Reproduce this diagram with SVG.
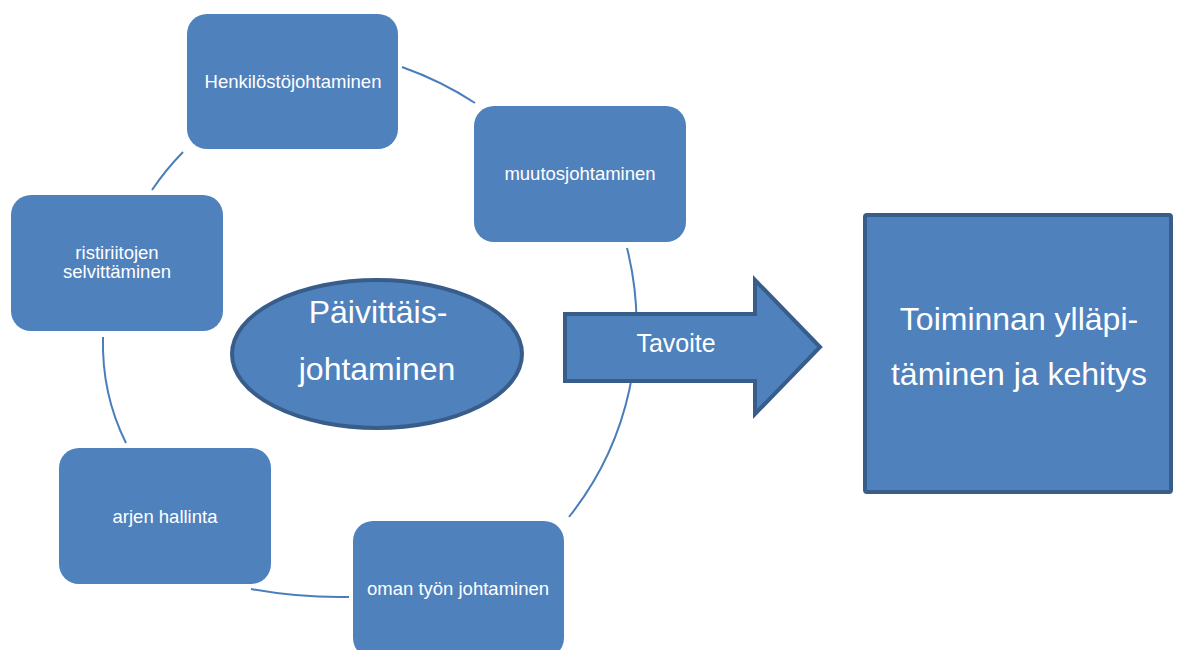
<svg xmlns="http://www.w3.org/2000/svg" width="1178" height="650" viewBox="0 0 1178 650">
  <style>
    .node { fill: #4F81BD; }
    .box-label { font-family: "Liberation Sans", Arial, sans-serif; font-size: 18.5px; fill: #FFFFFF; text-anchor: middle; }
    .big-label { font-family: "Liberation Sans", Arial, sans-serif; font-size: 32px; fill: #FFFFFF; text-anchor: middle; }
    .outlined { fill: #4F81BD; stroke: #385D8A; stroke-width: 4; }
    .link { fill: none; stroke: #4A7EBB; stroke-width: 2; }
  </style>
  <rect width="1178" height="650" fill="#FFFFFF"/>

  <!-- cycle connectors -->
  <g id="connectors">
    <path class="link" d="M402,67 Q441.5,81 475,103"/>
    <path class="link" d="M627,248 A310,310 0 0 1 569,517"/>
    <path class="link" d="M349,597 Q300.5,598 251,589"/>
    <path class="link" d="M126,443 Q101.5,394 103,337"/>
    <path class="link" d="M152,190 Q165.8,169.6 183,152"/>
  </g>

  <g id="node-henkilosto">
    <rect class="node" x="187" y="14" width="211" height="135" rx="20"/>
    <text class="box-label" x="293" y="88">Henkilöstöjohtaminen</text>
  </g>

  <g id="node-muutos">
    <rect class="node" x="474" y="106" width="212" height="136" rx="20"/>
    <text class="box-label" x="580" y="180">muutosjohtaminen</text>
  </g>

  <g id="node-ristiriidat">
    <rect class="node" x="11" y="195" width="212" height="136" rx="20"/>
    <text class="box-label" x="117" y="259">ristiriitojen</text>
    <text class="box-label" x="117" y="278">selvittäminen</text>
  </g>

  <g id="node-arki">
    <rect class="node" x="59" y="448" width="212" height="136" rx="20"/>
    <text class="box-label" x="165" y="523">arjen hallinta</text>
  </g>

  <g id="node-oma-tyo">
    <rect class="node" x="353" y="521" width="211" height="137" rx="20"/>
    <text class="box-label" x="458" y="595">oman työn johtaminen</text>
  </g>

  <g id="node-paivittais">
    <ellipse class="outlined" cx="377" cy="354" rx="145" ry="74"/>
    <text class="big-label" x="378" y="323">Päivittäis-</text>
    <text class="big-label" x="377" y="380">johtaminen</text>
  </g>

  <g id="node-tavoite">
    <path class="outlined" d="M565,314 H755 V280 L820,347 L755,414 V381 H565 Z"/>
    <text class="big-label" x="676" y="352" style="font-size:25px">Tavoite</text>
  </g>

  <g id="node-toiminta">
    <rect class="outlined" x="865" y="215" width="306" height="277" rx="2"/>
    <text class="big-label" x="1019" y="330">Toiminnan ylläpi-</text>
    <text class="big-label" x="1019" y="385">täminen ja kehitys</text>
  </g>
</svg>
